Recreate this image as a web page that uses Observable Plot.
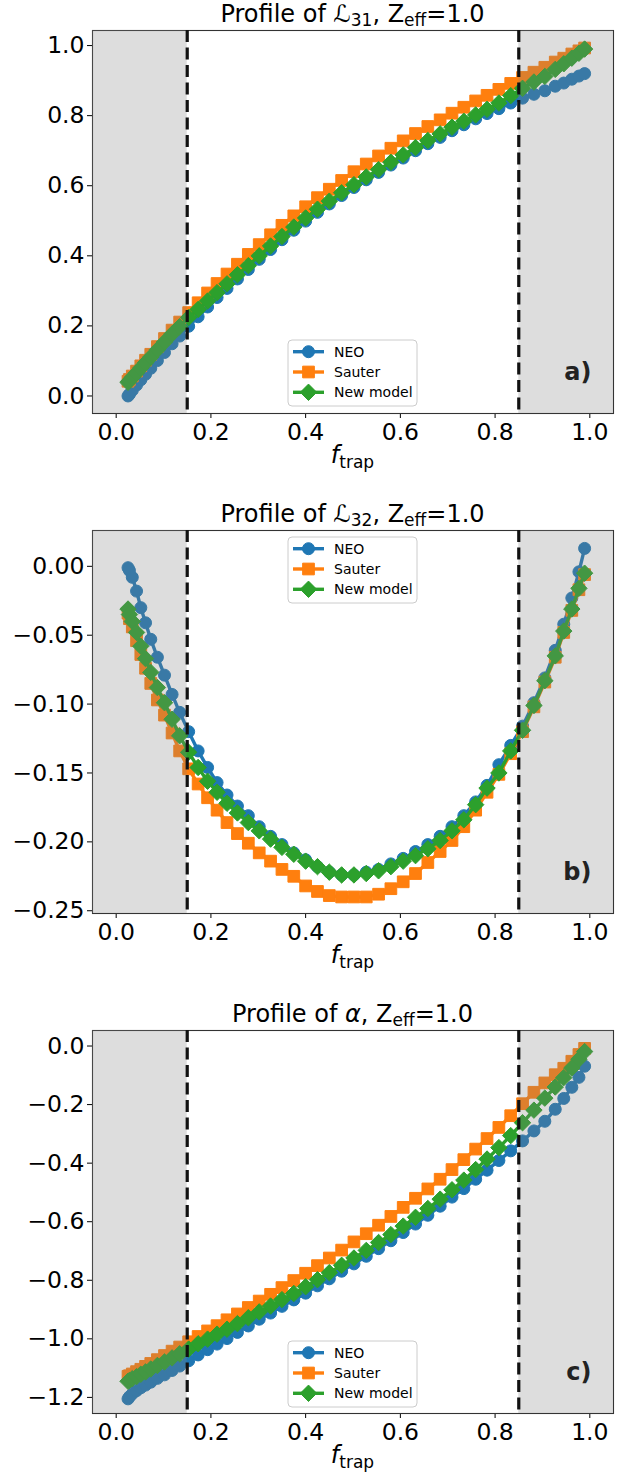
<!DOCTYPE html>
<html><head><meta charset="utf-8">
<script src="https://cdn.jsdelivr.net/npm/d3@7"></script>
<script src="https://cdn.jsdelivr.net/npm/@observablehq/plot@0.6"></script>
<style>
body{margin:0;background:#fff;}
#chart{width:634px;}
#chart svg{display:block;}
</style></head><body><div id="chart"></div>
<script>
// ---- data ----
const ftrap = [0.025,0.028,0.034,0.043,0.052,0.062,0.073,0.087,0.102,0.118,0.134,0.153,0.173,0.193,0.213,0.234,0.256,0.279,0.302,0.326,0.350,0.375,0.400,0.425,0.450,0.476,0.502,0.528,0.554,0.580,0.606,0.632,0.658,0.684,0.709,0.734,0.759,0.783,0.808,0.833,0.858,0.882,0.905,0.927,0.945,0.962,0.977,0.989];

const L31_NEO = [0.000,0.005,0.016,0.031,0.046,0.062,0.079,0.101,0.124,0.149,0.171,0.199,0.226,0.254,0.281,0.307,0.334,0.361,0.390,0.418,0.446,0.473,0.499,0.524,0.548,0.572,0.595,0.617,0.638,0.659,0.679,0.700,0.720,0.738,0.757,0.774,0.791,0.806,0.820,0.836,0.850,0.861,0.871,0.884,0.893,0.904,0.913,0.920];
const L31_Sauter = [0.042,0.047,0.057,0.071,0.086,0.102,0.119,0.141,0.164,0.188,0.211,0.238,0.266,0.294,0.321,0.348,0.376,0.404,0.432,0.460,0.487,0.514,0.540,0.566,0.590,0.615,0.640,0.662,0.685,0.707,0.728,0.749,0.769,0.788,0.807,0.824,0.842,0.858,0.875,0.892,0.909,0.924,0.938,0.953,0.964,0.976,0.985,0.993];
const L31_New = [0.039,0.044,0.053,0.066,0.080,0.095,0.111,0.132,0.154,0.177,0.198,0.224,0.247,0.271,0.295,0.320,0.346,0.372,0.400,0.428,0.455,0.482,0.508,0.533,0.556,0.580,0.603,0.625,0.646,0.667,0.688,0.709,0.729,0.748,0.767,0.784,0.802,0.818,0.836,0.857,0.878,0.896,0.912,0.932,0.948,0.964,0.978,0.990];

const L32_NEO = [-0.001,-0.003,-0.008,-0.018,-0.030,-0.041,-0.053,-0.066,-0.079,-0.093,-0.106,-0.120,-0.134,-0.146,-0.157,-0.166,-0.174,-0.181,-0.189,-0.196,-0.202,-0.208,-0.213,-0.218,-0.222,-0.224,-0.224,-0.222,-0.220,-0.216,-0.212,-0.207,-0.202,-0.196,-0.189,-0.181,-0.171,-0.159,-0.144,-0.130,-0.116,-0.099,-0.081,-0.061,-0.042,-0.023,-0.004,0.013];
const L32_Sauter = [-0.034,-0.038,-0.044,-0.054,-0.064,-0.074,-0.085,-0.097,-0.108,-0.121,-0.134,-0.147,-0.158,-0.168,-0.177,-0.186,-0.194,-0.201,-0.208,-0.214,-0.220,-0.225,-0.232,-0.236,-0.239,-0.240,-0.240,-0.240,-0.238,-0.234,-0.229,-0.223,-0.215,-0.207,-0.199,-0.189,-0.177,-0.164,-0.151,-0.136,-0.120,-0.102,-0.084,-0.066,-0.048,-0.032,-0.017,-0.006];
const L32_New = [-0.031,-0.035,-0.040,-0.048,-0.058,-0.067,-0.077,-0.088,-0.099,-0.111,-0.123,-0.135,-0.146,-0.156,-0.164,-0.172,-0.179,-0.186,-0.192,-0.198,-0.204,-0.209,-0.214,-0.218,-0.222,-0.224,-0.224,-0.223,-0.221,-0.218,-0.214,-0.210,-0.205,-0.199,-0.192,-0.184,-0.173,-0.161,-0.150,-0.134,-0.119,-0.101,-0.083,-0.065,-0.047,-0.031,-0.016,-0.005];

const alpha_NEO = [-1.205,-1.198,-1.188,-1.177,-1.167,-1.158,-1.148,-1.135,-1.123,-1.108,-1.093,-1.075,-1.055,-1.037,-1.018,-0.999,-0.978,-0.956,-0.933,-0.912,-0.889,-0.867,-0.844,-0.819,-0.795,-0.769,-0.744,-0.718,-0.692,-0.665,-0.637,-0.608,-0.578,-0.547,-0.516,-0.487,-0.455,-0.424,-0.391,-0.358,-0.324,-0.290,-0.257,-0.216,-0.179,-0.141,-0.107,-0.069];
const alpha_Sauter = [-1.128,-1.126,-1.120,-1.112,-1.104,-1.094,-1.084,-1.071,-1.057,-1.042,-1.028,-1.010,-0.992,-0.973,-0.955,-0.935,-0.915,-0.893,-0.871,-0.848,-0.825,-0.801,-0.776,-0.750,-0.724,-0.697,-0.669,-0.641,-0.612,-0.582,-0.551,-0.520,-0.488,-0.455,-0.422,-0.388,-0.352,-0.316,-0.278,-0.238,-0.197,-0.158,-0.126,-0.098,-0.076,-0.052,-0.029,-0.008];
const alpha_New = [-1.145,-1.142,-1.136,-1.129,-1.121,-1.113,-1.103,-1.091,-1.079,-1.065,-1.051,-1.035,-1.017,-1.001,-0.984,-0.967,-0.948,-0.928,-0.908,-0.888,-0.866,-0.845,-0.822,-0.798,-0.774,-0.749,-0.724,-0.698,-0.671,-0.644,-0.615,-0.585,-0.555,-0.523,-0.491,-0.458,-0.422,-0.386,-0.347,-0.306,-0.262,-0.219,-0.178,-0.140,-0.108,-0.075,-0.045,-0.019];

const seriesNames = ["NEO", "Sauter", "New model"];
const xTicks = [0.0, 0.2, 0.4, 0.6, 0.8, 1.0];
const xLimits = [-0.05, 1.05];
const trustBounds = [0.15, 0.85];
const shadeBands = [[-0.05, 0.15], [0.85, 1.05]];
const yTicksA = [0.0, 0.2, 0.4, 0.6, 0.8, 1.0];
const yTicksB = [0.00, -0.05, -0.10, -0.15, -0.20, -0.25];
const yTicksC = [0.0, -0.2, -0.4, -0.6, -0.8, -1.0, -1.2];
const panelLabels = ["a)", "b)", "c)"];

// ---- styles ----
const colors = ["#1f77b4", "#ff7f0e", "#2ca02c"];
const plotSymbols = ["circle", "square", "diamond2"];
const d3Symbols = [d3.symbolCircle, d3.symbolSquare, d3.symbolDiamond2];
const symR = [6, 6.6, 7.4];
const FONT = "DejaVu Sans";

const panels = [
  {series: [L31_NEO, L31_Sauter, L31_New], sym: "ℒ", sub: "31", yDomain: [-0.05, 1.043], yTicks: yTicksA, fmt: ".1f", legendTop: 340, height: 500, mb: 87},
  {series: [L32_NEO, L32_Sauter, L32_New], sym: "ℒ", sub: "32", yDomain: [-0.252, 0.026], yTicks: yTicksB, fmt: ".2f", legendTop: 37, height: 500, mb: 87},
  {series: [alpha_NEO, alpha_Sauter, alpha_New], sym: "α", sub: null, yDomain: [-1.255, 0.053], yTicks: yTicksC, fmt: ".1f", legendTop: 341, height: 473, mb: 60}
];

const W = 634, ML = 92, MR = 21, MT = 30;
const cx = ML + (W - ML - MR) / 2;

panels.forEach((p, pi) => {
  const marks = [Plot.frame({stroke: "#333", strokeWidth: 1.1})];
  p.series.forEach((vals, i) => {
    const data = ftrap.map((x, k) => ({x, y: vals[k]}));
    marks.push(Plot.line(data, {x: "x", y: "y", stroke: colors[i], strokeWidth: 3.4}));
    marks.push(Plot.dot(data, {x: "x", y: "y", symbol: plotSymbols[i], r: symR[i], fill: colors[i], stroke: colors[i], strokeWidth: 1}));
  });
  marks.push(Plot.rect(shadeBands, {x1: d => d[0], x2: d => d[1], fill: "#808080", fillOpacity: 0.27}));
  marks.push(Plot.ruleX(trustBounds, {stroke: "#111", strokeWidth: 3.2, strokeDasharray: "12,5.5"}));
  marks.push(Plot.text([panelLabels[pi]], {text: d => d, frameAnchor: "bottom-right", dx: -22, dy: -41, lineAnchor: "middle", textAnchor: "end", fontSize: 24, fontWeight: "bold", fill: "#222"}));

  const svg = Plot.plot({
    width: W, height: p.height,
    marginLeft: ML, marginRight: MR, marginTop: MT, marginBottom: p.mb,
    style: {fontFamily: FONT, fontSize: "23.5px", color: "#000", background: "white", overflow: "visible"},
    x: {domain: xLimits, ticks: xTicks, tickFormat: d3.format(".1f"), label: null, tickSize: 5, tickPadding: 5},
    y: {domain: p.yDomain, ticks: p.yTicks, tickFormat: d3.format(p.fmt), label: null, tickSize: 5, tickPadding: 3},
    marks
  });

  const s = d3.select(svg);
  // title
  const t = s.append("text").attr("x", cx).attr("y", 22).attr("text-anchor", "middle")
    .attr("font-family", FONT).attr("font-size", 24).attr("fill", "#000");
  t.append("tspan").text("Profile of ");
  t.append("tspan").attr("font-style", p.sym === "α" ? "italic" : "normal").text(p.sym);
  if (p.sub) t.append("tspan").attr("font-size", 17).attr("dy", 4).text(p.sub);
  t.append("tspan").attr("dy", p.sub ? -4 : 0).text(", Z");
  t.append("tspan").attr("font-size", 17).attr("dy", 4).text("eff");
  t.append("tspan").attr("dy", -4).text("=1.0");
  // x label
  const frameBottom = p.height - p.mb;
  const xl = s.append("text").attr("x", cx).attr("y", frameBottom + 50).attr("text-anchor", "middle")
    .attr("font-family", FONT).attr("font-size", 24).attr("fill", "#000");
  xl.append("tspan").attr("font-style", "italic").text("f");
  xl.append("tspan").attr("font-size", 17).attr("dy", 5).text("trap");
  // legend
  const g = s.append("g");
  const x0 = 288, lw = 129, lh = 66, top = p.legendTop;
  g.append("rect").attr("x", x0).attr("y", top).attr("width", lw).attr("height", lh).attr("rx", 4)
    .attr("fill", "white").attr("fill-opacity", 0.8).attr("stroke", "#cccccc").attr("stroke-width", 1);
  seriesNames.forEach((name, i) => {
    const cy = top + 11.7 + i * 20.3;
    g.append("line").attr("x1", x0 + 5).attr("x2", x0 + 36).attr("y1", cy).attr("y2", cy)
      .attr("stroke", colors[i]).attr("stroke-width", 3.4);
    g.append("path").attr("d", d3.symbol(d3Symbols[i], symR[i] * symR[i] * Math.PI)())
      .attr("transform", `translate(${x0 + 20.5},${cy})`).attr("fill", colors[i]).attr("stroke", colors[i]);
    g.append("text").attr("x", x0 + 46).attr("y", cy).attr("dy", "0.36em").attr("text-anchor", "start")
      .attr("font-family", FONT).attr("font-size", 14).attr("fill", "#000").text(name);
  });
  document.getElementById("chart").appendChild(svg);
});
</script></body></html>
